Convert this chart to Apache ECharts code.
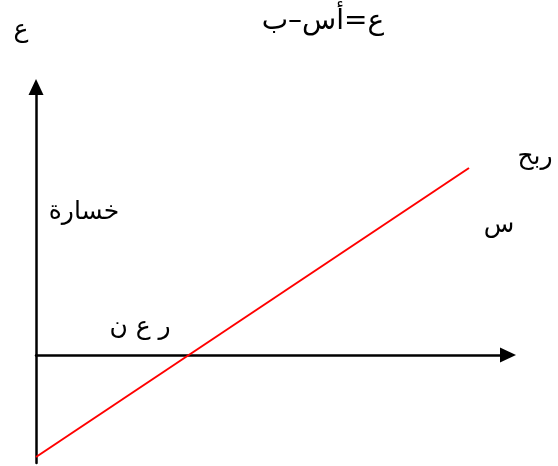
<!DOCTYPE html>
<html>
<head>
<meta charset="utf-8">
<script src="https://cdn.jsdelivr.net/npm/echarts@6/dist/echarts.min.js"></script>
<style>html,body{margin:0;padding:0;background:#fff}#c{width:558px;height:466px}</style>
</head>
<body>
<div id="c"></div>
<script>
// Data (arbitrary units)
var xRange = [0, 472];
var yRange = [-108, 268];
var lineX = [0, 433];
var lineY = [-102, 187];
var labels = ['ع', 'ع=أس–ب', 'ربح', 'س', 'خسارة', 'ر ع ن'];
var labelPos = [[21, 30], [323, 22], [535, 157], [499, 225], [84, 212], [140, 327]];
var labelSize = [25, 28, 25, 25, 25, 25];

var chart = echarts.init(document.getElementById('c'));
var texts = labels.map(function (t, i) {
  return {
    type: 'text', x: labelPos[i][0], y: labelPos[i][1],
    style: { text: t, font: labelSize[i] + 'px "DejaVu Sans", sans-serif', fill: '#000', align: 'center', verticalAlign: 'middle' }
  };
});
chart.setOption({
  animation: false,
  backgroundColor: '#fff',
  grid: { left: 36, right: 50, top: 87, bottom: 3, containLabel: false },
  xAxis: {
    type: 'value', min: xRange[0], max: xRange[1],
    axisLine: { show: true, onZero: true, lineStyle: { color: '#000', width: 2.5 }, symbol: ['none', 'triangle'], symbolSize: [15, 16] },
    axisTick: { show: false }, axisLabel: { show: false }, splitLine: { show: false }
  },
  yAxis: {
    type: 'value', min: yRange[0], max: yRange[1],
    axisLine: { show: true, onZero: false, lineStyle: { color: '#000', width: 2.5 }, symbol: ['none', 'triangle'], symbolSize: [15, 16] },
    axisTick: { show: false }, axisLabel: { show: false }, splitLine: { show: false }
  },
  series: [{
    type: 'line',
    data: lineX.map(function (x, i) { return [x, lineY[i]]; }),
    showSymbol: false,
    lineStyle: { color: '#ff0000', width: 2 }
  }],
  graphic: texts
});
</script>
</body>
</html>
